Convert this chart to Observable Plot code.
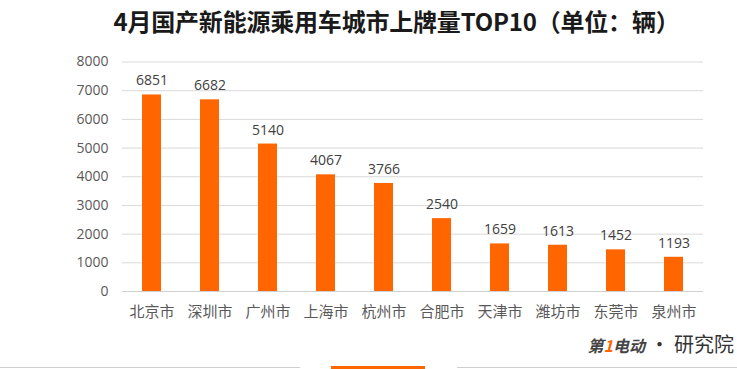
<!DOCTYPE html>
<html>
<head>
<meta charset="utf-8">
<script src="https://cdn.jsdelivr.net/npm/d3@7"></script>
<script src="https://cdn.jsdelivr.net/npm/@observablehq/plot@0.6"></script>
<style>
  html, body { margin: 0; padding: 0; background: #fff; }
  #wrap { position: relative; width: 737px; height: 369px; overflow: hidden; background: #fff; }
  #title { height: 42px; line-height: 42px; box-sizing: border-box; padding-left: 56px; text-align: center;
    font-family: "Noto Sans CJK SC", sans-serif; font-weight: 700; font-size: 24px; color: #1a1a1a; letter-spacing: -0.2px; white-space: nowrap; }
  .deco { position: absolute; }
  #logo { position: absolute; right: 3px; top: 331px; font-family: "Noto Sans CJK SC", sans-serif; white-space: nowrap; color: #333; line-height: 26px; }
</style>
</head>
<body>
<div id="wrap">
  <div id="title">4月国产新能源乘用车城市上牌量TOP10（单位：辆）</div>
  <div id="chart"></div>
  <div class="deco" style="left:0;top:367px;width:300px;height:1px;background:#cfcfcf"></div>
  <div class="deco" style="left:331px;top:366px;width:94px;height:3px;background:#ff6600"></div>
  <div class="deco" style="left:457px;top:367px;width:280px;height:1px;background:#cfcfcf"></div>
  <div id="logo"><span style="font-size:16px;font-weight:700;font-style:italic;color:#444">第<span style="color:#ff6600">1</span>电动</span><span style="font-size:20px;color:#333"> · 研究院</span></div>
</div>
<script>
const cities = ["北京市", "深圳市", "广州市", "上海市", "杭州市", "合肥市", "天津市", "潍坊市", "东莞市", "泉州市"];
const values = [6851, 6682, 5140, 4067, 3766, 2540, 1659, 1613, 1452, 1193];
const yTicks = [0, 1000, 2000, 3000, 4000, 5000, 6000, 7000, 8000];

const data = cities.map((c, i) => ({city: c, value: values[i]}));

const chart = Plot.plot({
  width: 737,
  height: 327,
  marginTop: 19.5,
  marginBottom: 78,
  marginLeft: 122,
  marginRight: 34,
  style: {fontFamily: "'Open Sans', 'Noto Sans CJK SC', sans-serif", background: "#fff", overflow: "visible"},
  x: {domain: cities, paddingInner: 0.673, paddingOuter: 0.3365, label: null},
  y: {domain: [0, 8000], label: null},
  marks: [
    Plot.gridY(yTicks, {stroke: "#d9d9d9", strokeOpacity: 1, strokeWidth: 1}),
    Plot.ruleY([0], {stroke: "#d0d0d0", strokeWidth: 1}),
    Plot.barY(data, {x: "city", y: "value", fill: "#ff6600"}),
    Plot.text(data, {x: "city", y: "value", text: d => String(d.value), dy: -14, fill: "#404040", fontSize: 14}),
    Plot.axisY(yTicks, {tickSize: 0, tickPadding: 14, fontSize: 14, fill: "#595959", label: null, tickFormat: d => String(d)}),
    Plot.axisX({tickSize: 0, tickPadding: 15, fontSize: 15, fill: "#595959", fontFamily: "'Noto Sans CJK SC', sans-serif", label: null})
  ]
});
document.getElementById("chart").appendChild(chart);
</script>
</body>
</html>
